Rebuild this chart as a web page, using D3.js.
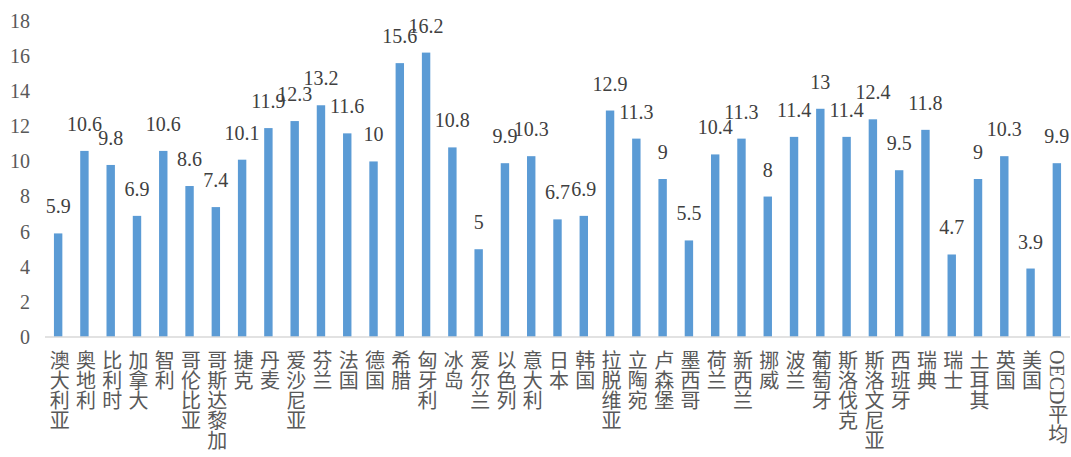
<!DOCTYPE html>
<meta charset="utf-8">
<script src="https://cdn.jsdelivr.net/npm/d3@7"></script>
<style>
body { margin: 0; background: #fff; }
text.cat { writing-mode: vertical-rl; }
</style>
<body>
<script>
var countries = ["澳大利亚","奥地利","比利时","加拿大","智利","哥伦比亚","哥斯达黎加","捷克","丹麦","爱沙尼亚",
  "芬兰","法国","德国","希腊","匈牙利","冰岛","爱尔兰","以色列","意大利","日本","韩国","拉脱维亚","立陶宛",
  "卢森堡","墨西哥","荷兰","新西兰","挪威","波兰","葡萄牙","斯洛伐克","斯洛文尼亚","西班牙","瑞典","瑞士",
  "土耳其","英国","美国","OECD平均"];
var values = [5.9,10.6,9.8,6.9,10.6,8.6,7.4,10.1,11.9,12.3,
  13.2,11.6,10,15.6,16.2,10.8,5,9.9,10.3,6.7,6.9,12.9,11.3,
  9,5.5,10.4,11.3,8,11.4,13,11.4,12.4,9.5,11.8,4.7,
  9,10.3,3.9,9.9];
var yTicks = [0,2,4,6,8,10,12,14,16,18];

var width = 1071, height = 457;
var plotLeft = 45, plotRight = 1070, plotTop = 21, plotBottom = 337;

var svg = d3.select("body").append("svg")
    .attr("width", width)
    .attr("height", height);

var x = d3.scaleBand()
    .domain(countries)
    .range([plotLeft, plotRight])
    .paddingInner(0.68)
    .paddingOuter(0.34);

var y = d3.scaleLinear()
    .domain([0, 18])
    .range([plotBottom, plotTop]);

// y axis, labels only
var ya = svg.append("g")
    .attr("transform", "translate(30,0)")
    .call(d3.axisLeft(y).tickValues(yTicks).tickSize(0).tickPadding(0));
ya.select(".domain").remove();
ya.selectAll("text")
    .attr("font-family", "Liberation Serif")
    .attr("font-size", 20)
    .attr("fill", "#595959");

// bars
svg.append("g")
  .selectAll("rect")
  .data(values)
  .enter().append("rect")
    .attr("x", (d, i) => x(countries[i]))
    .attr("y", d => y(d))
    .attr("width", x.bandwidth())
    .attr("height", d => plotBottom - y(d))
    .attr("fill", "#5b9bd5");

// x axis line
svg.append("line")
    .attr("x1", plotLeft).attr("x2", plotRight)
    .attr("y1", plotBottom).attr("y2", plotBottom)
    .attr("stroke", "#d9d9d9")
    .attr("stroke-width", 1.5);

// value labels
svg.append("g")
  .selectAll("text")
  .data(values)
  .enter().append("text")
    .attr("font-family", "Liberation Serif")
    .attr("font-size", 20)
    .attr("fill", "#404040")
    .attr("x", (d, i) => x(countries[i]) + x.bandwidth() / 2)
    .attr("y", d => y(d) - 27)
    .attr("dy", "0.35em")
    .attr("text-anchor", "middle")
    .text(d => d);

// category labels (vertical)
svg.append("g")
  .selectAll("text")
  .data(countries)
  .enter().append("text")
    .attr("class", "cat")
    .attr("font-family", "Liberation Serif, Noto Sans CJK SC")
    .attr("font-size", 20)
    .attr("fill", "#595959")
    .attr("x", d => x(d) + x.bandwidth() / 2)
    .attr("y", 350)
    .text(d => d);
</script>
</body>
</html>
